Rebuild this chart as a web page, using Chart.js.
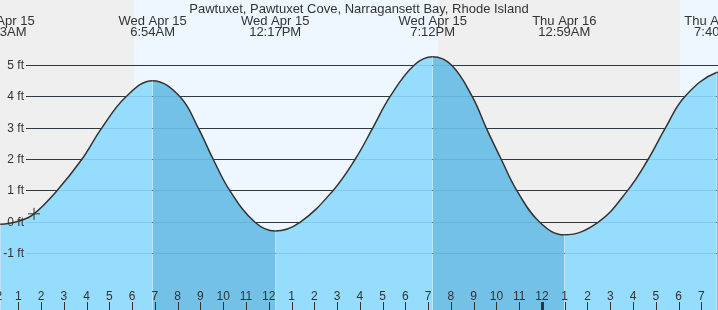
<!DOCTYPE html>
<html>
<head>
<meta charset="utf-8">
<title>Pawtuxet tide chart</title>
<script src="https://cdn.jsdelivr.net/npm/chart.js@4.4.1/dist/chart.umd.min.js"></script>
<style>
  html, body { margin: 0; padding: 0; background: #fff; }
  canvas { display: block; }
</style>
</head>
<body>
<canvas id="tideChart" width="718" height="310"></canvas>
<script>
const chartTitle = 'Pawtuxet, Pawtuxet Cove, Narragansett Bay, Rhode Island';

// High / low tides, hours counted from midnight Apr 15
const hiLoHours = [0.217, 6.9, 12.283, 19.2, 24.983, 31.667];
const hiLoFeet = [-0.06, 4.51, -0.28, 5.27, -0.40, 4.77];
const hiLoDays = ['Wed Apr 15', 'Wed Apr 15', 'Wed Apr 15', 'Wed Apr 15', 'Thu Apr 16', 'Thu Apr 16'];
const hiLoTimes = ['12:13AM', '6:54AM', '12:17PM', '7:12PM', '12:59AM', '7:40AM'];

// Tide height
const curveHours = [-0.6, 1.075, 1.69, 2.687, 3.785, 4.663, 5.731,
  8.103, 8.906, 9.565, 10.299, 11.397,
  13.373, 14.81, 15.789, 16.566, 17.326, 18.381,
  20.036, 20.941, 21.556, 22.215, 22.905, 23.902,
  26.463, 27.749, 28.659, 29.418, 30.27, 32.4];
const curveFeet = [0.05, 0.05, 0.27, 1, 2, 3, 4,
  4, 3, 2, 1, 0,
  0, 1, 2, 3, 4, 5,
  5, 4, 3, 2, 1, 0,
  0, 1, 2, 3, 4, 4.6];

// Current time marker
const nowHour = 1.69;
const nowFeet = 0.27;

// Sunrise, sunset, sunrise
const sunHours = [6.07, 19.43, 30.05];

const hourTicks = [0, 1, 2, 3, 4, 5, 6, 7, 8, 9, 10, 11, 12, 13, 14, 15, 16,
  17, 18, 19, 20, 21, 22, 23, 24, 25, 26, 27, 28, 29, 30, 31];
const hourLabels = ['12', '1', '2', '3', '4', '5', '6', '7', '8', '9', '10', '11',
  '12', '1', '2', '3', '4', '5', '6', '7', '8', '9', '10', '11',
  '12', '1', '2', '3', '4', '5', '6', '7'];
const feetTicks = [-1, 0, 1, 2, 3, 4, 5];
const feetLabels = ['-1 ft', '0 ft', '1 ft', '2 ft', '3 ft', '4 ft', '5 ft'];

const LIGHT = '#96dcfc';
const DARK = '#73c1e6';
const FONT = '"Liberation Sans", Arial, sans-serif';

// merge extremes and readings into one sorted curve
const tidePoints = hiLoHours.map((h, i) => ({ x: h, y: hiLoFeet[i] }))
  .concat(curveHours.map((h, i) => ({ x: h, y: curveFeet[i] })))
  .sort((a, b) => a.x - b.x);

const tideDecor = {
  id: 'tideDecor',
  beforeDatasetsDraw(chart) {
    const { ctx, chartArea: a, scales: { x, y } } = chart;
    ctx.save();
    // night (grey) / day (pale blue) bands
    const edges = [x.min].concat(sunHours, [x.max]);
    for (let i = 0; i < edges.length - 1; i++) {
      const x0 = Math.round(x.getPixelForValue(edges[i]));
      const x1 = Math.round(x.getPixelForValue(edges[i + 1]));
      ctx.fillStyle = i % 2 === 0 ? '#efefef' : '#eef7ff';
      ctx.fillRect(x0, a.top, x1 - x0, a.bottom - a.top);
    }
    // dark grid lines
    ctx.strokeStyle = '#333';
    ctx.lineWidth = 1;
    feetTicks.forEach(v => {
      const py = Math.floor(y.getPixelForValue(v)) + 0.5;
      ctx.beginPath();
      ctx.moveTo(26, py);
      ctx.lineTo(a.right, py);
      ctx.stroke();
    });
    ctx.restore();
  },
  afterDatasetsDraw(chart) {
    const { ctx, chartArea: a, scales: { x, y } } = chart;
    ctx.save();
    // grid lines showing faintly through the water
    ctx.strokeStyle = 'rgba(20,100,160,0.15)';
    ctx.lineWidth = 1;
    feetTicks.forEach(v => {
      const py = Math.floor(y.getPixelForValue(v)) + 0.5;
      ctx.beginPath();
      ctx.moveTo(26, py);
      ctx.lineTo(a.right, py);
      ctx.stroke();
    });

    ctx.fillStyle = '#333';
    // y labels
    ctx.font = '12px ' + FONT;
    ctx.textAlign = 'right';
    ctx.textBaseline = 'alphabetic';
    feetTicks.forEach((v, i) => {
      ctx.fillText(feetLabels[i], 24, y.getPixelForValue(v) + 3.5);
    });

    // hour labels and ticks
    ctx.textAlign = 'center';
    hourTicks.forEach((h, i) => {
      const px = x.getPixelForValue(h);
      ctx.fillText(hourLabels[i], px, 299.5);
      const w = h % 24 === 0 ? 3 : 1;
      ctx.fillRect(Math.round(px) - (w > 1 ? 1 : 0), 302, w, 8);
    });

    // title
    ctx.font = '13px ' + FONT;
    ctx.fillText(chartTitle, a.left + (a.right - a.left) / 2, 12.5);

    // high / low labels
    hiLoHours.forEach((h, i) => {
      const px = x.getPixelForValue(h);
      ctx.fillText(hiLoDays[i], px, 24.5);
      ctx.fillText(hiLoTimes[i], px, 36.3);
    });
    ctx.restore();
  }
};

new Chart(document.getElementById('tideChart'), {
  type: 'line',
  data: {
    datasets: [
      {
        label: 'Now',
        data: [{ x: nowHour, y: nowFeet }],
        showLine: false,
        pointStyle: 'cross',
        pointRadius: 6,
        borderColor: '#333',
        borderWidth: 1,
        fill: false,
      },
      {
        label: 'Tide (ft)',
        data: tidePoints,
        borderColor: '#333',
        borderWidth: 1.5,
        pointRadius: 0,
        tension: 0.4,
        fill: 'start',
        backgroundColor: LIGHT,
        segment: {
          // falling tide is shaded darker
          backgroundColor: c => (c.p1.parsed.y < c.p0.parsed.y ? DARK : LIGHT),
        },
      },
    ],
  },
  options: {
    responsive: false,
    animation: false,
    devicePixelRatio: 1,
    layout: { padding: 0, autoPadding: false },
    plugins: {
      legend: { display: false },
      tooltip: { enabled: false },
    },
    scales: {
      x: { type: 'linear', display: false, min: 0.1963, max: 31.733 },
      y: { type: 'linear', display: false, min: -2.793, max: 7.08 },
    },
  },
  plugins: [tideDecor],
});
</script>
</body>
</html>
